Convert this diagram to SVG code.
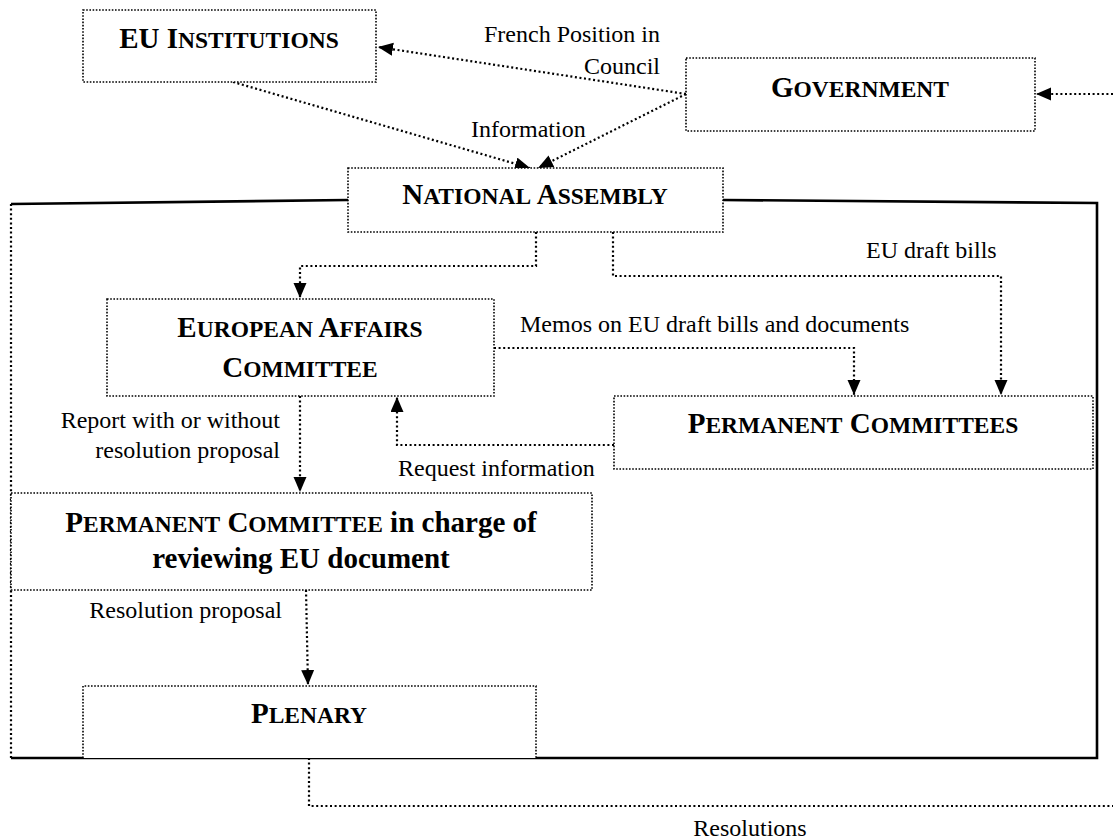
<svg xmlns="http://www.w3.org/2000/svg" width="1113" height="840" viewBox="0 0 1113 840">
<style>
.box{fill:#fff;stroke:#000;stroke-width:1.6;stroke-dasharray:1.6 1.6}
.con{fill:none;stroke:#000;stroke-width:2.2;stroke-dasharray:2 2.6}
.frame{fill:none;stroke:#000;stroke-width:2.6}
.h{font-family:"Liberation Serif","Times New Roman",serif;font-weight:bold;font-size:29px;text-anchor:middle;fill:#000}
.sc{font-size:23.5px}
.lbl{font-family:"Liberation Serif","Times New Roman",serif;font-size:24px;fill:#000}
</style>
<defs>
<marker id="ah" markerUnits="userSpaceOnUse" markerWidth="16" markerHeight="14" refX="15" refY="6.5" orient="auto">
<path d="M0,0 L15,6.5 L0,13 z" fill="#000"/>
</marker>
</defs>
<rect width="1113" height="840" fill="#fff"/>
<g id="frame">
<path class="frame" d="M11,204 L348,200"/>
<path class="frame" d="M723,200 L1097,203 L1097,758 L11,758"/>
<path class="con" d="M11,204 V758" stroke-width="1.8"/>
</g>
<g id="connectors">
<path class="con" d="M686,94 L378,47" marker-end="url(#ah)"/>
<path class="con" d="M233,82 L530,168" marker-end="url(#ah)"/>
<path class="con" d="M686,94 L538,168" marker-end="url(#ah)"/>
<path class="con" d="M1113,94 L1036,94" marker-end="url(#ah)"/>
<path class="con" d="M536,232 V266 H300 V298" marker-end="url(#ah)"/>
<path class="con" d="M613,232 V276 H1001 V395" marker-end="url(#ah)"/>
<path class="con" d="M494,348 H854 V395" marker-end="url(#ah)"/>
<path class="con" d="M614,445 H397 V397" marker-end="url(#ah)"/>
<path class="con" d="M300,396 V492" marker-end="url(#ah)"/>
<path class="con" d="M306,590 L308,685" marker-end="url(#ah)"/>
<path class="con" d="M309,758 V806 H1113"/>
</g>
<g id="eu-institutions">
<rect class="box" x="83" y="10" width="293" height="72"/>
<text class="h" x="229" y="48">EU I<tspan class="sc">NSTITUTIONS</tspan></text>
</g>
<g id="government">
<rect class="box" x="686" y="58" width="349" height="73"/>
<text class="h" x="860" y="97">G<tspan class="sc">OVERNMENT</tspan></text>
</g>
<g id="national-assembly">
<rect class="box" x="348" y="168" width="375" height="64"/>
<text class="h" x="535" y="204">N<tspan class="sc">ATIONAL</tspan> A<tspan class="sc">SSEMBLY</tspan></text>
</g>
<g id="european-affairs-committee">
<rect class="box" x="107" y="299" width="387" height="97"/>
<text class="h" x="300" y="337">E<tspan class="sc">UROPEAN</tspan> A<tspan class="sc">FFAIRS</tspan></text>
<text class="h" x="300" y="377">C<tspan class="sc">OMMITTEE</tspan></text>
</g>
<g id="permanent-committees">
<rect class="box" x="614" y="396" width="479" height="73"/>
<text class="h" x="853" y="433">P<tspan class="sc">ERMANENT</tspan> C<tspan class="sc">OMMITTEES</tspan></text>
</g>
<g id="permanent-committee-in-charge">
<rect class="box" x="11" y="493" width="581" height="97"/>
<text class="h" x="301" y="532">P<tspan class="sc">ERMANENT</tspan> C<tspan class="sc">OMMITTEE</tspan> in charge of</text>
<text class="h" x="301" y="568">reviewing EU document</text>
</g>
<g id="plenary">
<path class="box" d="M83,758 V686 H536 V758"/>
<text class="h" x="309" y="723">P<tspan class="sc">LENARY</tspan></text>
</g>
<g id="labels">
<text class="lbl" x="660" y="42" text-anchor="end">French Position in</text>
<text class="lbl" x="660" y="74" text-anchor="end">Council</text>
<text class="lbl" x="471" y="137">Information</text>
<text class="lbl" x="866" y="258">EU draft bills</text>
<text class="lbl" x="520" y="332">Memos on EU draft bills and documents</text>
<text class="lbl" x="280" y="428" text-anchor="end">Report with or without</text>
<text class="lbl" x="280" y="458" text-anchor="end">resolution proposal</text>
<text class="lbl" x="398" y="476">Request information</text>
<text class="lbl" x="282" y="618" text-anchor="end">Resolution proposal</text>
<text class="lbl" x="750" y="836" text-anchor="middle">Resolutions</text>
</g>
</svg>
